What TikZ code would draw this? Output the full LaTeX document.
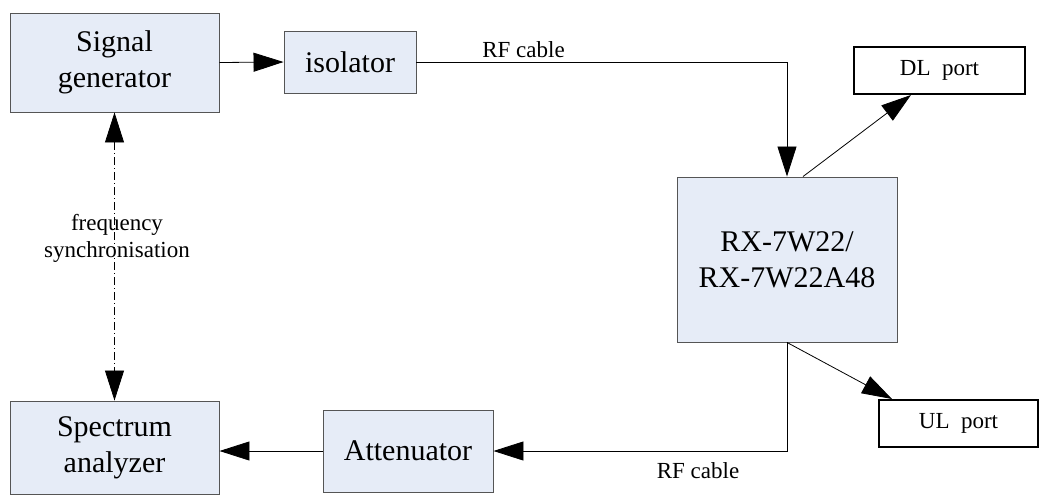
\documentclass[tikz,border=0pt]{standalone}
\usepackage{fontspec}
\setmainfont{Liberation Serif}
\usetikzlibrary{arrows.meta,calc}
\definecolor{boxfill}{HTML}{E6ECF7}
\definecolor{boxline}{HTML}{555555}
\tikzset{
  blk/.style={draw=boxline, line width=0.9pt, fill=boxfill, inner sep=0pt, align=center,
    font=\fontsize{30}{36}\selectfont},
  port/.style={draw=black, line width=2pt, fill=white, inner sep=0pt, align=center,
    font=\fontsize{23}{27}\selectfont},
  conn/.style={draw=black, line width=0.8pt, -{Triangle[length=30pt,width=19pt]}},
  lbl/.style={inner sep=0pt, font=\fontsize{23}{27}\selectfont, align=center},
}
\begin{document}
\begin{tikzpicture}[x=1pt,y=-1pt]
\useasboundingbox (0,0) rectangle (1045,498);
\node[blk, minimum width=209pt, minimum height=99pt] (sg) at (114.5,62.5) {Signal\\generator};
\node[blk, minimum width=132pt, minimum height=62pt] (iso) at (350,62) {isolator};
\node[blk, minimum width=220pt, minimum height=165pt] (rx) at (787,259.5) {RX-7W22/\\RX-7W22A48};
\node[port, minimum width=171pt, minimum height=47pt] (dl) at (939.5,70.5) {DL\ \ port};
\node[port, minimum width=159pt, minimum height=47pt] (ul) at (958.5,423.5) {UL\ \ port};
\node[blk, minimum width=170pt, minimum height=82pt] (att) at (408,451) {Attenuator};
\node[blk, minimum width=209pt, minimum height=93pt] (sa) at (114.5,447.5) {Spectrum\\analyzer};

\coordinate (dltip) at ($(dl.south west)+(58,0)$);
\coordinate (ultip) at ($(ul.north west)+(14,0)$);
\coordinate (rxdl) at ($(rx.north)+(16,0)$);

\draw[conn] (sg.east) -- (iso.west);
\draw[conn] (iso.east) -| (rx.north);
\draw[conn] (rxdl) -- (dltip);
\draw[conn] (rx.south) -- (ultip);
\draw[conn] (rx.south) |- (att.east);
\draw[conn] (att.west) -- (att.west -| sa.east);
\draw[conn, {Triangle[length=30pt,width=19pt]}-{Triangle[length=30pt,width=19pt]},
  dash pattern=on 8pt off 3pt on 1pt off 3pt] (sg.south) -- (sa.north);

\node[lbl, anchor=base] (rf1) at (523.5,57) {RF cable};
\node[lbl, anchor=base] (rf2) at (698,478) {RF cable};
\node[lbl] (fs) at (117,238) {frequency\\synchronisation};
\end{tikzpicture}
\end{document}
